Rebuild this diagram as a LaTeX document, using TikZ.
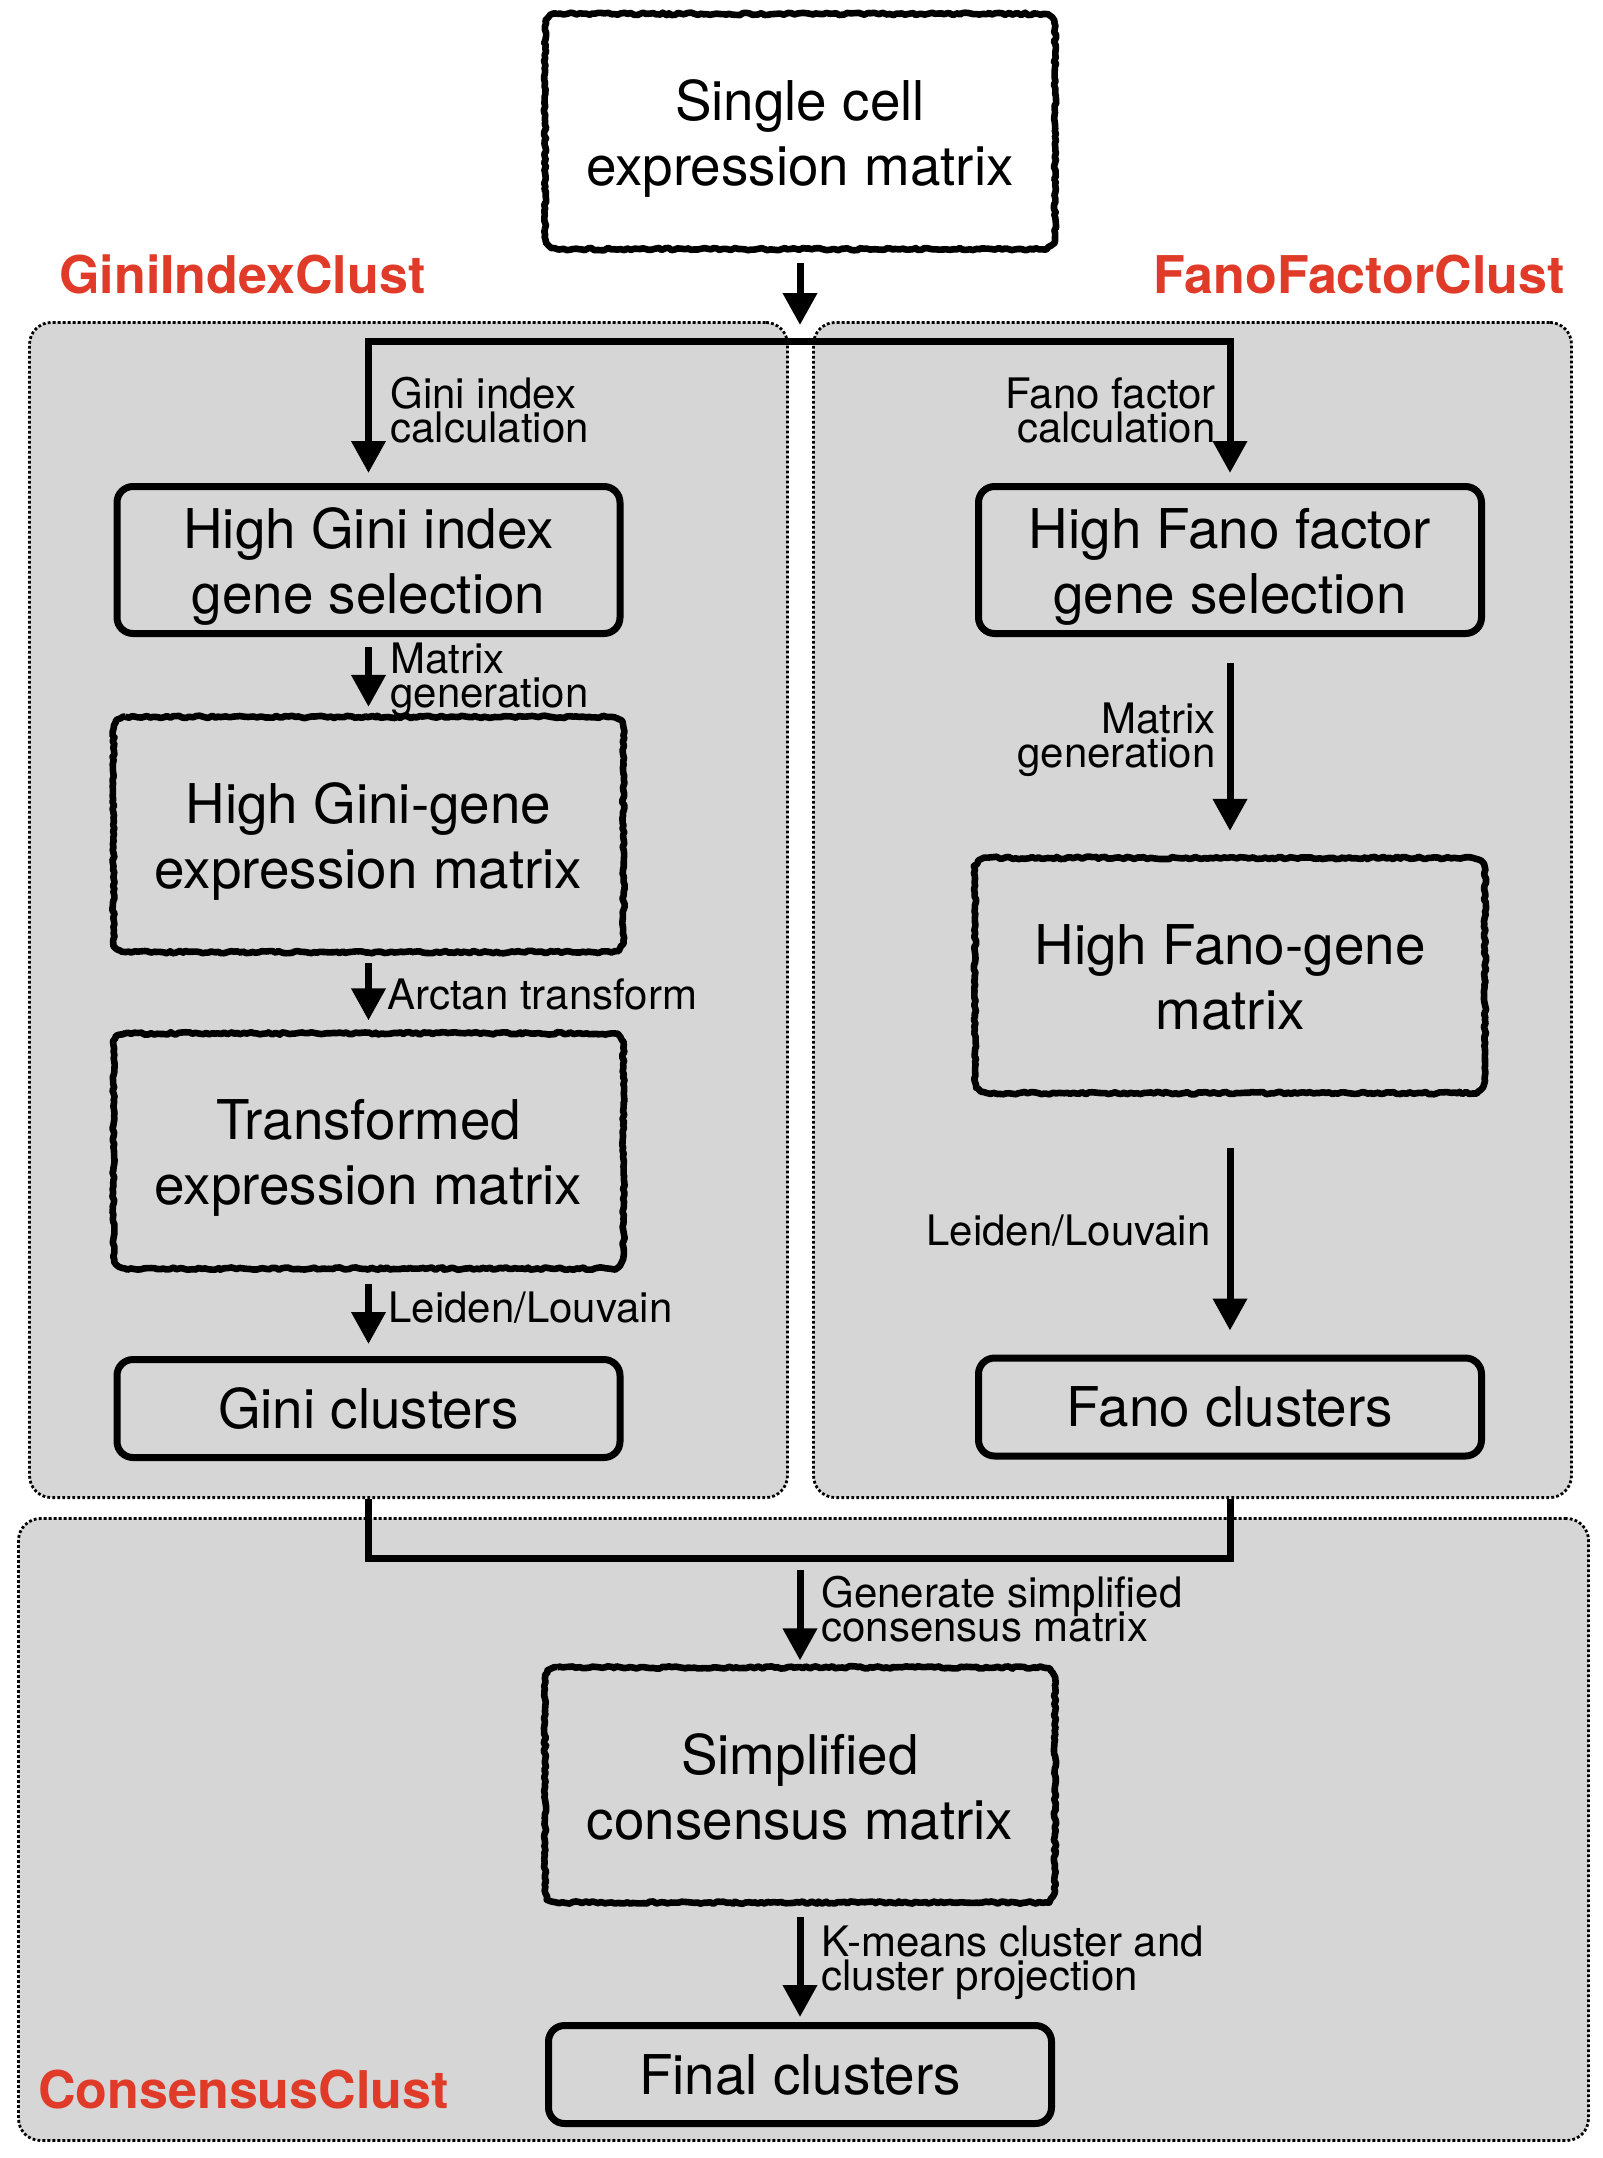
\documentclass[tikz,border=0pt]{standalone}
\usepackage{fontspec}
\setmainfont{TeX Gyre Heros}
\usetikzlibrary{arrows.meta,decorations.pathmorphing}
\definecolor{clustred}{RGB}{224,58,40}
\definecolor{panelgray}{RGB}{214,214,214}
\newcommand\boxfont{\fontsize{27.4pt}{32.5pt}\selectfont\lineskiplimit=-30pt}
\newcommand\lblfont{\fontsize{21pt}{17pt}\selectfont\lineskiplimit=-30pt}
\newcommand\ttlfont{\fontsize{26pt}{30pt}\selectfont\bfseries}
\newcommand\topstrut{\rule{0pt}{27.4pt}}
\newcommand\botstrut{\rule[-5.8pt]{0pt}{5.8pt}}
\newcommand\roughframe[1]{%
  \draw[roughline] ([xshift=6pt]#1.north west) -- ([xshift=-6pt]#1.north east)
    arc[start angle=90,end angle=0,radius=6pt] -- ([yshift=6pt]#1.south east)
    arc[start angle=0,end angle=-90,radius=6pt] -- ([xshift=6pt]#1.south west)
    arc[start angle=270,end angle=180,radius=6pt] -- ([yshift=-6pt]#1.north west)
    arc[start angle=180,end angle=90,radius=6pt] -- cycle;}
\begin{document}
\begin{tikzpicture}[x=0.5pt,y=-0.5pt,
  panel/.style={draw, fill=panelgray, line width=1.4pt, dash pattern=on 1.4pt off 1.1pt, rounded corners=11pt, inner sep=0pt},
  solidbox/.style={draw, line width=3.5pt, rounded corners=8pt, align=center, font=\boxfont, minimum width=251.5pt, inner sep=0pt},
  roughbox/.style={align=center, font=\boxfont, minimum width=251.6pt, minimum height=114.2pt, inner sep=0pt, outer sep=1.7pt},
  roughline/.style={line width=3.3pt, line join=round, decorate, decoration={random steps, segment length=1.6pt, amplitude=0.6pt}},
  lbl/.style={font=\lblfont, inner sep=0pt},
  ttl/.style={font=\ttlfont, text=clustred, inner sep=0pt},
  conn/.style={line width=3.5pt},
  arr/.style={conn, -{Triangle[length=16pt,width=16.5pt]}}]
\pgfmathsetseed{7}
\useasboundingbox (0,0) rectangle (1602,2158);
% panels
\node[panel, minimum width=379pt, minimum height=587.6pt] (lp) at (408.5,910) {};
\node[panel, minimum width=379pt, minimum height=587.6pt] (rp) at (1192.5,910) {};
\node[panel, minimum width=785pt, minimum height=311pt] (bp) at (803.5,1829.5) {};
% titles
\node[ttl, anchor=base west] (tgini) at (59,293) {GiniIndexClust};
\node[ttl, anchor=base east] (tfano) at (1565,293) {FanoFactorClust};
\node[ttl, anchor=base west] (tcons) at (38,2108) {ConsensusClust};
% top
\node[roughbox] (sc) at (800,131.5) {\topstrut Single cell\\expression matrix\botstrut};
% left column
\node[solidbox, minimum height=73.5pt] (gsel) at (368.5,560) {\topstrut High Gini index\\gene selection\botstrut};
\node[roughbox] (gmat) at (368.5,834.5) {\topstrut High Gini-gene\\expression matrix\botstrut};
\node[roughbox] (gtr) at (368.5,1151) {\topstrut Transformed\\expression matrix\botstrut};
\node[solidbox, minimum height=49pt] (gcl) at (368.5,1408.5) {Gini clusters};
% right column
\node[solidbox, minimum height=73.5pt] (fsel) at (1230,560) {\topstrut High Fano factor\\gene selection\botstrut};
\node[roughbox] (fmat) at (1230,975.5) {\topstrut High Fano-gene\\matrix\botstrut};
\node[solidbox, minimum height=49pt] (fcl) at (1230,1407) {Fano clusters};
% bottom
\node[roughbox] (scm) at (800,1785) {\topstrut Simplified\\consensus matrix\botstrut};
\node[solidbox, minimum height=49pt] (fin) at (800,2074.5) {Final clusters};
% rough frames
\roughframe{sc}
\roughframe{gmat}
\roughframe{gtr}
\roughframe{fmat}
\roughframe{scm}
% labels
\node[lbl, anchor=north west, align=left] (l1) at (390,377) {Gini index\\calculation};
\node[lbl, anchor=north west, align=left] (l2) at (390,642) {Matrix\\generation};
\node[lbl, anchor=base west] (l3) at (387,1009) {Arctan transform};
\node[lbl, anchor=base west] (l4) at (388,1322) {Leiden/Louvain};
\node[lbl, anchor=north east, align=right] (r1) at (1216,377) {Fano factor\\calculation};
\node[lbl, anchor=north east, align=right] (r2) at (1216,702) {Matrix\\generation};
\node[lbl, anchor=base east] (r3) at (1211,1245) {Leiden/Louvain};
\node[lbl, anchor=north west, align=left] (c1) at (821,1576) {Generate simplified\\consensus matrix};
\node[lbl, anchor=north west, align=left] (c2) at (821,1925) {K-means cluster and\\cluster projection};
% coordinates
\coordinate (jc) at (800,341);
\coordinate (bl) at (368.5,341);
\coordinate (br) at (1230,341);
\coordinate (jm) at (800,1558);
% connectors
\draw[arr, shorten <=7pt, shorten >=8pt] (sc.south) -- (jc);
\draw[arr, shorten >=5pt] (br) -- (bl) -- (gsel.north);
\draw[arr, shorten >=5pt] (bl) -- (br) -- (fsel.north);
\draw[arr, shorten <=5pt, shorten >=5pt] (gsel.south) -- (gmat.north);
\draw[arr, shorten <=5.5pt, shorten >=6.5pt] (gmat.south) -- (gtr.north);
\draw[arr, shorten <=7.5pt, shorten >=6pt] (gtr.south) -- (gcl.north);
\draw[arr, shorten <=13pt, shorten >=13.5pt] (fsel.south) -- (fmat.north);
\draw[arr, shorten <=27.5pt, shorten >=12pt] (fmat.south) -- (fcl.north);
\draw[conn] (gcl.south |- lp.south) |- (jm) -| (fcl.south |- rp.south);
\draw[arr, shorten <=6pt, shorten >=3.5pt] (jm) -- (scm.north);
\draw[arr, shorten <=7pt, shorten >=2.5pt] (scm.south) -- (fin.north);
\end{tikzpicture}
\end{document}
